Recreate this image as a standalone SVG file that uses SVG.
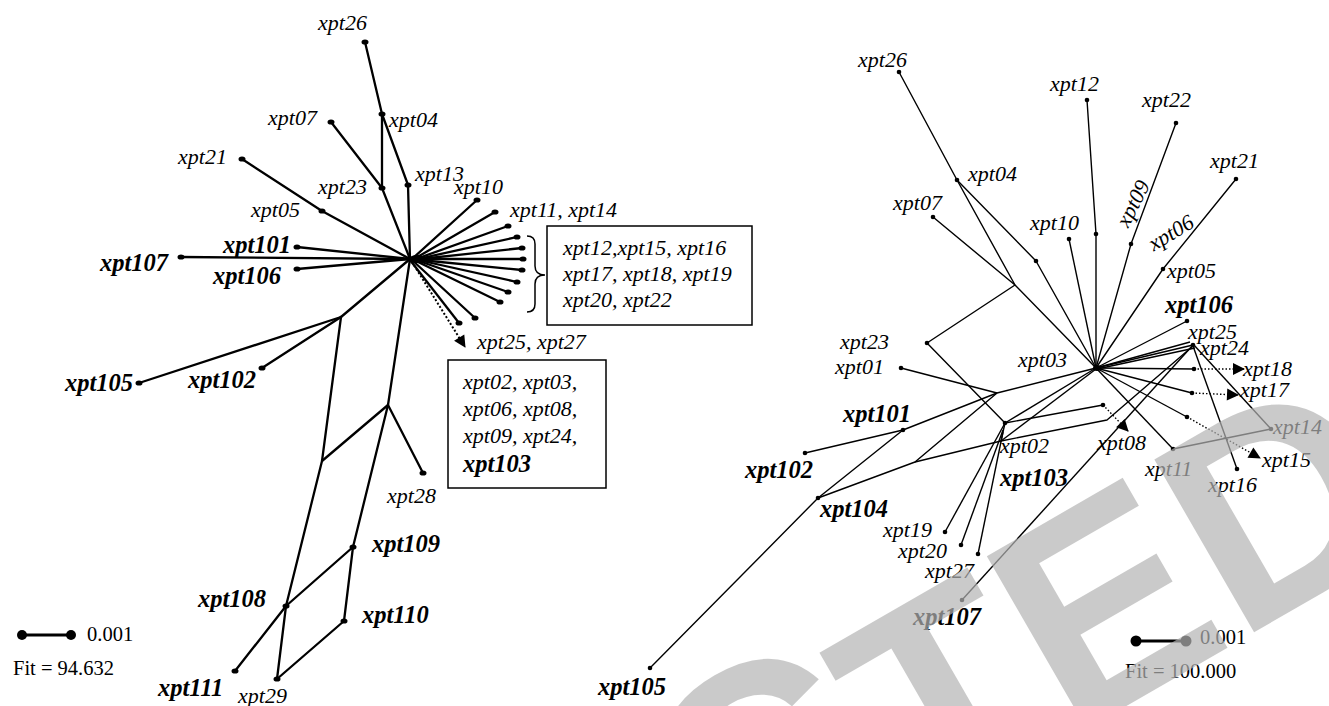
<svg xmlns="http://www.w3.org/2000/svg" width="1329" height="706" viewBox="0 0 1329 706">
<style>
.t{font-family:"Liberation Serif",serif;font-style:italic;font-size:22px;fill:#000}
.b{font-family:"Liberation Serif",serif;font-style:italic;font-weight:bold;font-size:24.5px;fill:#000}
.g{font-family:"Liberation Serif",serif;font-size:20.5px;fill:#000}
.lc{stroke:#000;stroke-width:2.3;fill:none;stroke-linejoin:round;stroke-linecap:round}
.rc{stroke:#000;stroke-width:1.4;fill:none;stroke-linejoin:round}
.dt{stroke:#000;stroke-width:2;fill:none;stroke-dasharray:2 2}
.dr{stroke:#000;stroke-width:1.4;fill:none;stroke-dasharray:1.5 2}
.box{fill:none;stroke:#000;stroke-width:1.5}
.wm{font-family:"Liberation Sans",sans-serif;font-weight:bold;font-size:290px;fill:#b4b4b4;fill-opacity:0.7}
</style>
<defs>
<marker id="ah" markerUnits="userSpaceOnUse" markerWidth="14" markerHeight="14" viewBox="0 -7 12 14" refX="11" refY="0" orient="auto">
<path d="M0,-6 L12,0 L0,6 z" fill="#000"/>
</marker>
<ellipse id="dl" rx="3.5" ry="2.6" fill="#000"/>
<circle id="dr" r="2.3" fill="#000"/>
</defs>
<rect width="1329" height="706" fill="#fff"/>

<g id="left-connectors">
<path class="lc" d="M365,42 L382,114 L408,185 L410,259"/>
<path class="lc" d="M382,114 L382,188"/>
<path class="lc" d="M331,122 L382,188 L410,259"/>
<path class="lc" d="M242,159 L322,211 L410,259"/>
<path class="lc" d="M181,257 L410,259"/>
<path class="lc" d="M297,247 L410,259"/>
<path class="lc" d="M297,269 L410,259"/>
<path class="lc" d="M477,200 L412,259"/>
<path class="lc" d="M495,212 L414,259"/>
<path class="lc" d="M508,226 L416,259"/>
<path class="lc" d="M517,237 L418,259"/>
<path class="lc" d="M522,248 L420,259"/>
<path class="lc" d="M523,259 L420,259"/>
<path class="lc" d="M522,270 L420,260"/>
<path class="lc" d="M517,282 L418,260"/>
<path class="lc" d="M508,292 L416,260"/>
<path class="lc" d="M500,302 L414,260"/>
<path class="lc" d="M475,318 L412,260"/>
<path class="lc" d="M459,323 L410,260"/>
<path class="dt" d="M412,262 L465,347" marker-end="url(#ah)"/>
<path class="lc" d="M410,259 L341,317 L139,383"/>
<path class="lc" d="M341,317 L262,368"/>
<path class="lc" d="M341,317 L322,461 L286,606 L277,679"/>
<path class="lc" d="M410,259 L388,405 L353,547"/>
<path class="lc" d="M388,405 L423,473"/>
<path class="lc" d="M388,405 L322,461"/>
<path class="lc" d="M235,671 L286,606 L353,547 L344,621 L277,679"/>
<ellipse cx="417" cy="259" rx="8" ry="4" fill="#000"/>
<path d="M527,236 Q535,236 535,244 L535,266 Q535,275 545,275 Q535,275 535,284 L535,304 Q535,312 527,312" fill="none" stroke="#000" stroke-width="1.5"/>
</g>

<g id="L-xpt26"><use href="#dl" x="365" y="42"/><text class="t" x="318" y="30">xpt26</text></g>
<g id="L-xpt04"><use href="#dl" x="382" y="114"/><text class="t" x="389" y="127">xpt04</text></g>
<g id="L-xpt07"><use href="#dl" x="331" y="122"/><text class="t" x="268" y="125">xpt07</text></g>
<g id="L-xpt21"><use href="#dl" x="242" y="159"/><text class="t" x="178" y="164">xpt21</text></g>
<g id="L-xpt23"><use href="#dl" x="382" y="188"/><text class="t" x="318" y="194">xpt23</text></g>
<g id="L-xpt13"><use href="#dl" x="408" y="185"/><text class="t" x="415" y="181">xpt13</text></g>
<g id="L-xpt10"><use href="#dl" x="477" y="200"/><text class="t" x="454" y="194">xpt10</text></g>
<g id="L-xpt05"><use href="#dl" x="322" y="211"/><text class="t" x="251" y="217">xpt05</text></g>
<g id="L-xpt11-14"><use href="#dl" x="495" y="212"/><text class="t" x="510" y="217">xpt11, xpt14</text></g>
<g id="L-xpt101"><use href="#dl" x="297" y="247"/><text class="b" x="223" y="253">xpt101</text></g>
<g id="L-xpt107"><use href="#dl" x="181" y="257"/><text class="b" x="100" y="271">xpt107</text></g>
<g id="L-xpt106"><use href="#dl" x="297" y="269"/><text class="b" x="213" y="284">xpt106</text></g>
<g id="L-group1">
<use href="#dl" x="508" y="226"/><use href="#dl" x="517" y="237"/><use href="#dl" x="522" y="248"/><use href="#dl" x="523" y="259"/>
<use href="#dl" x="522" y="270"/><use href="#dl" x="517" y="282"/><use href="#dl" x="508" y="292"/><use href="#dl" x="500" y="302"/>
<rect class="box" x="547" y="226" width="205" height="99"/>
<text class="t" x="563" y="255">xpt12,xpt15, xpt16</text>
<text class="t" x="563" y="281">xpt17, xpt18, xpt19</text>
<text class="t" x="563" y="307">xpt20, xpt22</text>
</g>
<g id="L-group2">
<use href="#dl" x="475" y="318"/><use href="#dl" x="459" y="323"/>
<rect class="box" x="448" y="360" width="158" height="128"/>
<text class="t" x="463" y="389">xpt02, xpt03,</text>
<text class="t" x="463" y="416">xpt06, xpt08,</text>
<text class="t" x="463" y="443">xpt09, xpt24,</text>
<text class="b" x="463" y="472">xpt103</text>
</g>
<g id="L-xpt25-27"><text class="t" x="477" y="349">xpt25, xpt27</text></g>
<g id="L-xpt105"><use href="#dl" x="139" y="383"/><text class="b" x="65" y="391">xpt105</text></g>
<g id="L-xpt102"><use href="#dl" x="262" y="368"/><text class="b" x="188" y="388">xpt102</text></g>
<g id="L-xpt28"><use href="#dl" x="423" y="473"/><text class="t" x="387" y="503">xpt28</text></g>
<g id="L-xpt109"><use href="#dl" x="353" y="547"/><text class="b" x="372" y="552">xpt109</text></g>
<g id="L-xpt108"><use href="#dl" x="286" y="606"/><text class="b" x="198" y="607">xpt108</text></g>
<g id="L-xpt110"><use href="#dl" x="344" y="621"/><text class="b" x="362" y="623">xpt110</text></g>
<g id="L-xpt111"><use href="#dl" x="235" y="671"/><text class="b" x="158" y="696">xpt111</text></g>
<g id="L-xpt29"><use href="#dl" x="277" y="679"/><text class="t" x="238" y="703">xpt29</text></g>
<g id="L-scale">
<line x1="22" y1="635" x2="71" y2="635" stroke="#000" stroke-width="3"/>
<circle cx="22" cy="635" r="5" fill="#000"/><circle cx="71" cy="635" r="5" fill="#000"/>
<text class="g" x="87" y="641">0.001</text>
<text class="g" x="13" y="675">Fit = 94.632</text>
</g>

<g id="right-connectors">
<path class="rc" d="M899,72 L957,180 L1015,285"/>
<path class="rc" d="M957,180 L1036,261 L1096,368"/>
<path class="rc" d="M933,217 L1015,285 L1096,368"/>
<path class="rc" d="M1015,285 L927,343 L1005,423"/>
<path class="rc" d="M1069,239 L1096,368"/>
<path class="rc" d="M1087,100 L1096,234 L1096,368"/>
<path class="rc" d="M1176,123 L1131,244 L1096,368"/>
<path class="rc" d="M1236,179 L1163,269 L1096,368"/>
<path class="rc" d="M1096,368 L1187,321"/>
<path class="rc" d="M1096,368 L1190,342"/>
<path class="rc" d="M1096,368 L1193,345"/>
<path class="rc" d="M1097,369 L1195,348"/>
<path class="rc" d="M1096,368 L1194,369"/>
<path class="rc" d="M1096,368 L1192,393"/>
<path class="rc" d="M1096,368 L1187,417"/>
<path class="rc" d="M1096,368 L1173,449"/>
<path class="rc" d="M1173,449 L1271,429"/>
<path class="rc" d="M1193,344 L1271,429"/>
<path class="rc" d="M1193,346 L1237,469"/>
<path class="rc" d="M1096,368 L997,393 L903,430 L805,453"/>
<path class="rc" d="M901,368 L997,393"/>
<path class="rc" d="M650,668 L818,498 L903,430"/>
<path class="rc" d="M818,498 L915,462 L997,393"/>
<path class="rc" d="M915,462 L1001,441 L1107,420 L1193,346"/>
<path class="rc" d="M1005,423 L1096,368"/>
<path class="rc" d="M1001,441 L1096,369"/>
<path class="rc" d="M1005,423 L1103,405"/>
<path class="rc" d="M1005,423 L1001,441"/>
<path class="rc" d="M1005,423 L945,532"/>
<path class="rc" d="M1003,430 L961,545"/>
<path class="rc" d="M1003,432 L978,554"/>
<path class="rc" d="M962,600 L1193,345"/>
<path class="dr" d="M1103,405 L1128,431" marker-end="url(#ah)"/>
<path class="dr" d="M1194,369 L1244,369" marker-end="url(#ah)"/>
<path class="dr" d="M1192,393 L1238,395" marker-end="url(#ah)"/>
<path class="dr" d="M1187,417 L1260,458" marker-end="url(#ah)"/>
<ellipse cx="1097" cy="368" rx="4" ry="3" fill="#000"/>
</g>

<g id="R-xpt26"><use href="#dr" x="899" y="72"/><text class="t" x="858" y="67">xpt26</text></g>
<g id="R-xpt12"><use href="#dr" x="1087" y="100"/><use href="#dr" x="1096" y="234"/><text class="t" x="1050" y="91">xpt12</text></g>
<g id="R-xpt22"><use href="#dr" x="1176" y="123"/><text class="t" x="1142" y="107">xpt22</text></g>
<g id="R-xpt21"><use href="#dr" x="1236" y="179"/><text class="t" x="1210" y="168">xpt21</text></g>
<g id="R-xpt04"><use href="#dr" x="957" y="180"/><use href="#dr" x="1036" y="261"/><text class="t" x="968" y="181">xpt04</text></g>
<g id="R-xpt07"><use href="#dr" x="933" y="217"/><text class="t" x="893" y="210">xpt07</text></g>
<g id="R-xpt10"><use href="#dr" x="1069" y="239"/><text class="t" x="1030" y="230">xpt10</text></g>
<g id="R-xpt09"><use href="#dr" x="1131" y="244"/><text class="t" text-anchor="middle" transform="translate(1134,204) rotate(-63)" x="0" y="6">xpt09</text></g>
<g id="R-xpt06"><text class="t" text-anchor="middle" transform="translate(1171,233) rotate(-31)" x="0" y="7">xpt06</text></g>
<g id="R-xpt05"><use href="#dr" x="1163" y="269"/><text class="t" x="1167" y="278">xpt05</text></g>
<g id="R-xpt106"><use href="#dr" x="1187" y="321"/><text class="b" x="1165" y="313">xpt106</text></g>
<g id="R-xpt25"><text class="t" x="1188" y="339">xpt25</text></g>
<g id="R-xpt24"><use href="#dr" x="1193" y="345"/><text class="t" x="1200" y="355">xpt24</text></g>
<g id="R-xpt23"><use href="#dr" x="927" y="343"/><text class="t" x="840" y="349">xpt23</text></g>
<g id="R-xpt03"><text class="t" x="1018" y="367">xpt03</text></g>
<g id="R-xpt01"><use href="#dr" x="901" y="368"/><text class="t" x="835" y="374">xpt01</text></g>
<g id="R-xpt18"><use href="#dr" x="1194" y="369"/><text class="t" x="1243" y="376">xpt18</text></g>
<g id="R-xpt17"><use href="#dr" x="1192" y="393"/><text class="t" x="1240" y="397">xpt17</text></g>
<g id="R-xpt15"><use href="#dr" x="1187" y="417"/><text class="t" x="1262" y="467">xpt15</text></g>
<g id="R-xpt101"><use href="#dr" x="903" y="430"/><text class="b" x="843" y="422">xpt101</text></g>
<g id="R-xpt14"><use href="#dr" x="1271" y="429"/><text class="t" x="1273" y="434">xpt14</text></g>
<g id="R-xpt08"><use href="#dr" x="1103" y="405"/><text class="t" x="1097" y="450">xpt08</text></g>
<g id="R-xpt02"><use href="#dr" x="1005" y="423"/><text class="t" x="1000" y="453">xpt02</text></g>
<g id="R-xpt11"><use href="#dr" x="1173" y="449"/><text class="t" x="1145" y="476">xpt11</text></g>
<g id="R-xpt102"><use href="#dr" x="805" y="453"/><text class="b" x="745" y="478">xpt102</text></g>
<g id="R-xpt103"><text class="b" x="1000" y="486">xpt103</text></g>
<g id="R-xpt16"><use href="#dr" x="1237" y="469"/><text class="t" x="1208" y="492">xpt16</text></g>
<g id="R-xpt104"><use href="#dr" x="818" y="498"/><text class="b" x="820" y="517">xpt104</text></g>
<g id="R-xpt19"><use href="#dr" x="945" y="532"/><text class="t" x="883" y="537">xpt19</text></g>
<g id="R-xpt20"><use href="#dr" x="961" y="545"/><text class="t" x="898" y="558">xpt20</text></g>
<g id="R-xpt27"><use href="#dr" x="978" y="554"/><text class="t" x="925" y="578">xpt27</text></g>
<g id="R-xpt107"><use href="#dr" x="962" y="600"/><text class="b" x="913" y="625">xpt107</text></g>
<g id="R-xpt105"><use href="#dr" x="650" y="668"/><text class="b" x="598" y="695">xpt105</text></g>
<g id="R-scale">
<line x1="1136" y1="641" x2="1186" y2="641" stroke="#000" stroke-width="3"/>
<circle cx="1136" cy="641" r="5.5" fill="#000"/><circle cx="1186" cy="641" r="5.5" fill="#000"/>
<text class="g" x="1200" y="644">0.001</text>
<text class="g" x="1125" y="678">Fit = 100.000</text>
</g>

<text class="wm" transform="translate(735,932) rotate(-30)"><tspan dy="-30">C</tspan><tspan dy="30">TED</tspan></text>
</svg>
